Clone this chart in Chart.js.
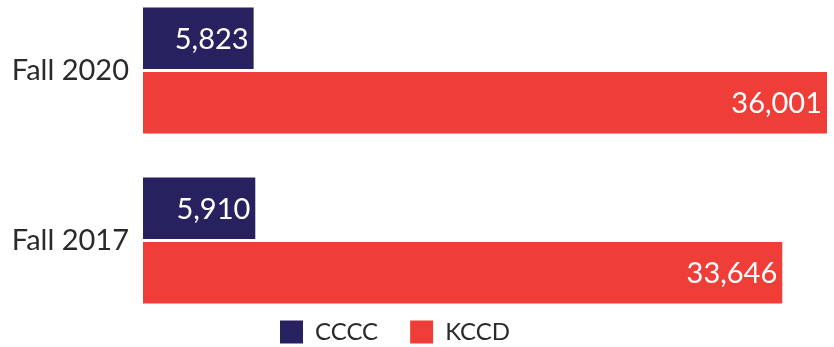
<!DOCTYPE html>
<html><head><meta charset="utf-8">
<script src="https://cdn.jsdelivr.net/npm/chart.js@4/dist/chart.umd.min.js"></script>
<style>html,body{margin:0;padding:0;background:#fff}#wrap{width:834px;height:347px;position:relative}</style>
</head><body><div id="wrap"><canvas id="c"></canvas></div>
<script>
const categories = ["Fall 2020", "Fall 2017"];
const seriesNames = ["CCCC", "KCCD"];
const ccccValues = [5823, 5910];
const kccdValues = [36001, 33646];
const seriesColors = ["#27215f", "#ef3e37"];
const FONT = "Lato, 'Source Sans Pro', sans-serif";

const barLabels = {
  id: 'barLabels',
  afterDatasetsDraw(chart) {
    const ctx = chart.ctx;
    ctx.save();
    ctx.font = `29px ${FONT}`;
    ctx.fillStyle = '#ffffff';
    ctx.textAlign = 'right';
    ctx.textBaseline = 'middle';
    chart.data.datasets.forEach((ds, di) => {
      const meta = chart.getDatasetMeta(di);
      meta.data.forEach((bar, i) => {
        ctx.fillText(ds.data[i].toLocaleString('en-US'), bar.x - 5, bar.y + 1);
      });
    });
    ctx.restore();
  }
};

new Chart(document.getElementById('c'), {
  type: 'bar',
  data: {
    labels: categories,
    datasets: [
      { label: seriesNames[0], data: ccccValues, backgroundColor: seriesColors[0] },
      { label: seriesNames[1], data: kccdValues, backgroundColor: seriesColors[1] }
    ]
  },
  options: {
    indexAxis: 'y',
    responsive: true,
    maintainAspectRatio: false,
    animation: false,
    devicePixelRatio: 1,
    datasets: { bar: { categoryPercentage: 0.76, barPercentage: 0.953, clip: false, borderWidth: 0 } },
    layout: { padding: { left: -37, right: 7, top: 70.5, bottom: -7 } },
    scales: {
      x: {
        min: 0,
        max: Math.max(...ccccValues, ...kccdValues),
        display: true,
        grid: { display: false, drawTicks: false },
        border: { display: false },
        ticks: { display: false },
        afterFit(scale) { scale.height = 47.5; }
      },
      y: {
        offset: false,
        grid: { display: false, drawTicks: false },
        border: { display: false },
        ticks: { padding: 14, color: '#2a2a2a', font: { family: FONT, size: 29 } },
        afterFit(scale) { scale.width = 180; }
      }
    },
    plugins: {
      tooltip: { enabled: false },
      legend: {
        position: 'bottom',
        labels: { boxWidth: 23, boxHeight: 23, padding: 32, color: '#2a2a2a', font: { family: FONT, size: 24 } }
      }
    }
  },
  plugins: [barLabels]
});
</script></body></html>
